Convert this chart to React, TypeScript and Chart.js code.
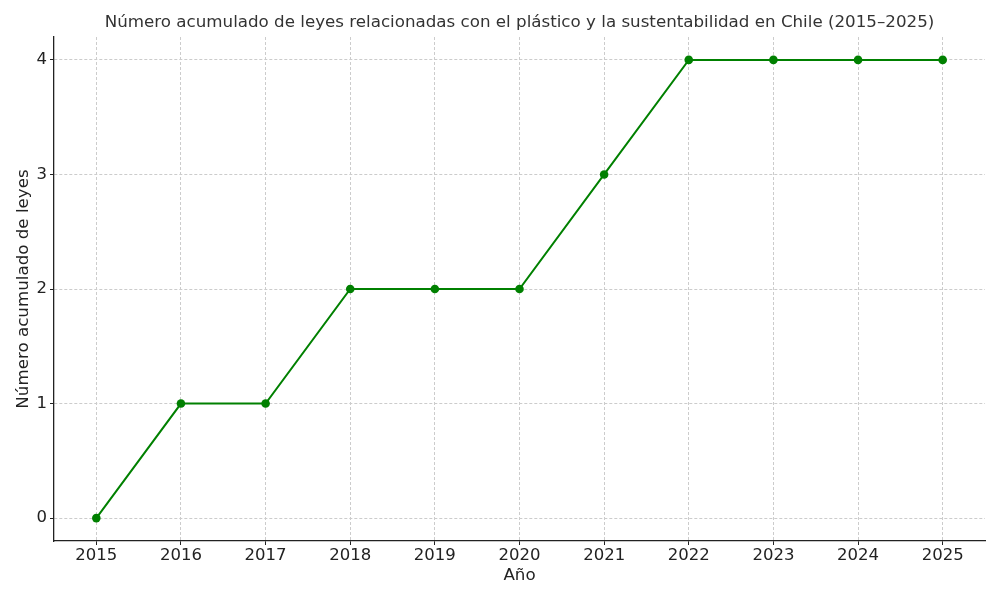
import React, { useEffect, useRef } from "react";
import { Chart, registerables } from "chart.js";

Chart.register(...registerables);

const years = [2015, 2016, 2017, 2018, 2019, 2020, 2021, 2022, 2023, 2024, 2025];
const cumulativeLaws = [0, 1, 1, 2, 2, 2, 3, 4, 4, 4, 4];
const yTicks = [0, 1, 2, 3, 4];

const titleText =
  "Número acumulado de leyes relacionadas con el plástico y la sustentabilidad en Chile (2015–2025)";
const xTitle = "Año";
const yTitle = "Número acumulado de leyes";

const FONT = "'DejaVu Sans', sans-serif";

export default function App() {
  const ref = useRef<HTMLCanvasElement>(null);

  useEffect(() => {
    if (!ref.current) return;
    const centerTitle = {
      id: "centerTitle",
      afterLayout(chart: any) {
        const tb = chart.titleBlock;
        if (tb) {
          tb.left = chart.chartArea.left;
          tb.right = chart.chartArea.right;
          tb.width = tb.right - tb.left;
        }
      },
    };
    const chart = new Chart(ref.current, {
      type: "line",
      data: {
        datasets: [
          {
            data: years.map((y, i) => ({ x: y, y: cumulativeLaws[i] })),
            borderColor: "#008000",
            backgroundColor: "#008000",
            borderWidth: 2,
            pointRadius: 4.3,
            pointBackgroundColor: "#008000",
            pointBorderWidth: 0,
            tension: 0,
          },
        ],
      },
      options: {
        animation: false,
        responsive: false,
        layout: { padding: { left: 0, right: 15, top: 0, bottom: 0 } },
        plugins: {
          legend: { display: false },
          tooltip: { enabled: false },
          title: {
            display: true,
            text: titleText,
            color: "#333333",
            font: { family: FONT, size: 16.7, weight: "normal" },
            padding: { top: 12.5, bottom: 4.46 },
          },
        },
        scales: {
          x: {
            type: "linear",
            min: 2014.5,
            max: 2025.5,
            afterBuildTicks: (scale: any) => {
              scale.ticks = years.map((v) => ({ value: v }));
            },
            afterFit: (scale: any) => {
              scale.height = 59;
            },
            ticks: {
              color: "#222222",
              font: { family: FONT, size: 16.5 },
              padding: 1,
              maxRotation: 0,
              autoSkip: false,
              callback: (v: any) => String(v),
            },
            grid: {
              color: "#cccccc",
              lineWidth: 1,
              drawTicks: true,
              tickLength: 4,
              tickColor: "#222222",
              tickWidth: 1,
            },
            border: { display: true, color: "#222222", width: 1.3, dash: [3, 2] },
            title: {
              display: true,
              text: xTitle,
              color: "#222222",
              font: { family: FONT, size: 16.7 },
              padding: { top: 0, bottom: 14 },
            },
          },
          y: {
            type: "linear",
            min: -0.2,
            max: 4.2,
            afterBuildTicks: (scale: any) => {
              scale.ticks = yTicks.map((v) => ({ value: v }));
            },
            afterFit: (scale: any) => {
              scale.width = 54;
            },
            ticks: {
              color: "#222222",
              font: { family: FONT, size: 16.5 },
              padding: 3,
              callback: (v: any) => String(v),
            },
            grid: {
              color: "#cccccc",
              lineWidth: 1,
              drawTicks: true,
              tickLength: 4,
              tickColor: "#222222",
              tickWidth: 1,
            },
            border: { display: true, color: "#222222", width: 1.3, dash: [3, 2] },
            title: {
              display: true,
              text: yTitle,
              color: "#222222",
              font: { family: FONT, size: 16.7 },
              padding: { top: 14, bottom: 0 },
            },
          },
        },
      },
      plugins: [centerTitle],
    } as any);
    return () => chart.destroy();
  }, []);

  return (
    <div style={{ position: "absolute", left: 0, top: 0, width: 1000, height: 600, background: "#ffffff" }}>
      <canvas ref={ref} width={1000} height={600} />
    </div>
  );
}
